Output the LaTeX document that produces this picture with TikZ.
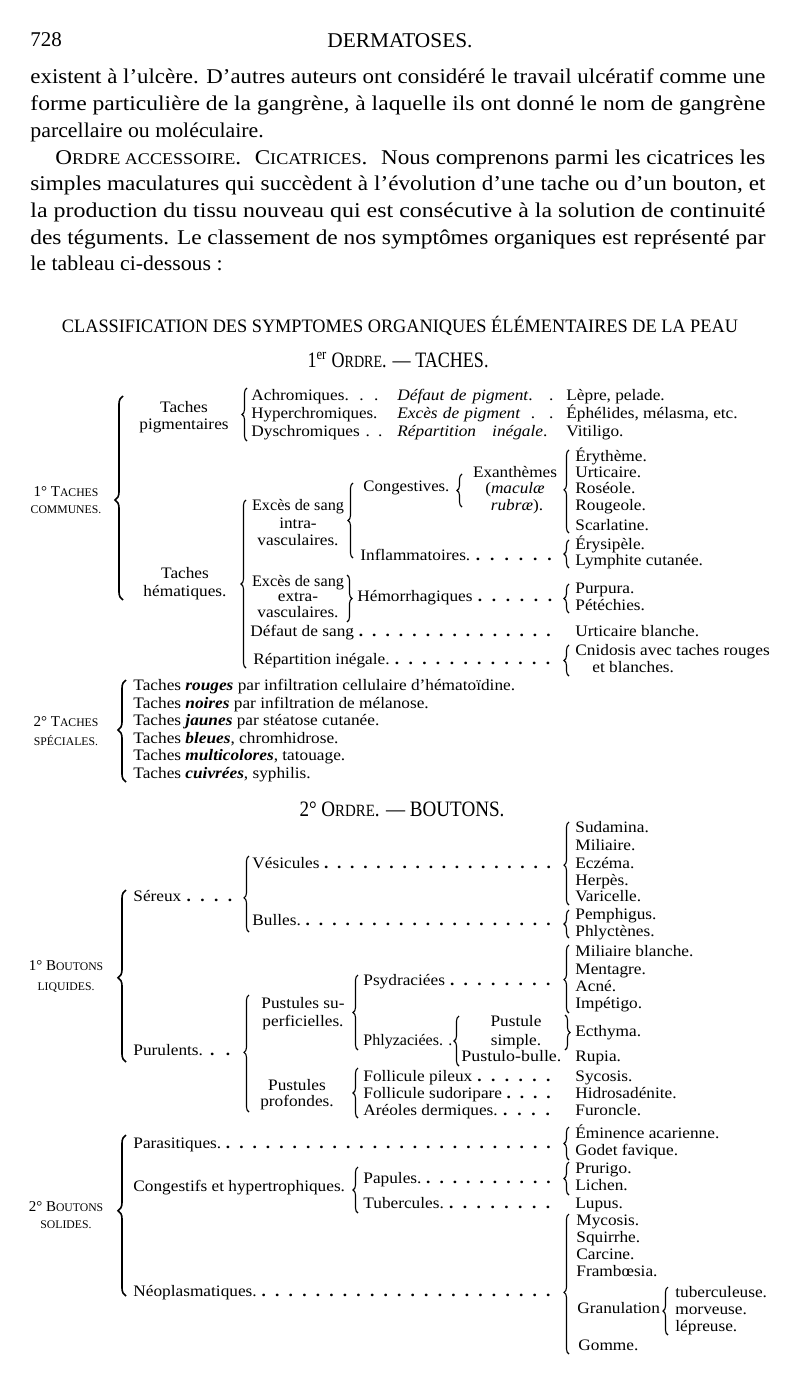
\documentclass[tikz,border=0pt]{standalone}
\usepackage{fontspec}
\setmainfont{Liberation Serif}
\newfontfamily\tabfam{Liberation Serif}[FakeStretch=1.08]
\usetikzlibrary{decorations.pathreplacing}
\newcommand\tf{\tabfam\fontsize{8}{9.6}\selectfont}
\newcommand\lf{\fontsize{7.5}{9}\selectfont}
\newcommand\bdf{\fontsize{10.5}{12.5}\selectfont}
\newcommand\smc[1]{\scalebox{0.78}{#1}}
\newcommand\ld[2]{\makebox[#1][l]{#2\xleaders\hbox to 6.5pt{\hss\textbf{.}\hss}\hfill}}
\newcommand\fit[2]{\resizebox{#1}{\height}{#2}}
\tikzset{
  tx/.style={anchor=base west, inner sep=0pt, font=\tf, yshift=-1.8pt},
  tc/.style={anchor=base, inner sep=0pt, font=\tf, yshift=-1.8pt},
  tl/.style={anchor=base, inner sep=0pt, font=\lf, yshift=-1.8pt},
  bd/.style={anchor=base west, inner sep=0pt, font=\bdf, yshift=-2.5pt},
  hdg/.style={anchor=base, inner sep=0pt, font=\bdf, yshift=-3pt},
  br/.style={decorate, decoration={brace, amplitude=2.5pt, aspect=#1}, line width=0.55pt},
  br/.default=0.5,
  bbr/.style={decorate, decoration={brace, amplitude=4pt, aspect=#1}, line width=0.8pt},
  bbr/.default=0.5
}
\begin{document}
\begin{tikzpicture}[x=0.5pt,y=-0.5pt]
\fill[white] (0,0) rectangle (800,1385);
\useasboundingbox (0,0) rectangle (800,1385);
% header
\node[bd] (pg) at (30,42) {728};
\node[hdg] (hd) at (400,42) {\fit{72.5pt}{DERMATOSES.}};
% paragraph
\node[bd] (l1) at (30,79) {\fit{367.5pt}{existent à l’ulcère. D’autres auteurs ont considéré le travail ulcératif comme une}};
\node[bd] (l2) at (30,106) {\fit{367.5pt}{forme particulière de la gangrène, à laquelle ils ont donné le nom de gangrène}};
\node[bd] (l3) at (30,133) {\scalebox{1.04}[1]{parcellaire ou moléculaire.}};
\node[bd] (l4) at (55,160) {\fit{355pt}{O\smc{RDRE ACCESSOIRE}. \ C\smc{ICATRICES}. \ Nous comprenons parmi les cicatrices les}};
\node[bd] (l5) at (30,186) {\fit{367.5pt}{simples maculatures qui succèdent à l’évolution d’une tache ou d’un bouton, et}};
\node[bd] (l6) at (30,213) {\fit{367.5pt}{la production du tissu nouveau qui est consécutive à la solution de continuité}};
\node[bd] (l7) at (30,240) {\fit{367.5pt}{des téguments. Le classement de nos symptômes organiques est représenté par}};
\node[bd] (l8) at (30,266) {\scalebox{1.04}[1]{le tableau ci-dessous :}};
% titles
\node[hdg, font=\fontsize{9.5}{11}\selectfont] (ti) at (400,326) {\fit{338pt}{CLASSIFICATION DES SYMPTOMES ORGANIQUES ÉLÉMENTAIRES DE LA PEAU}};
\node[hdg, font=\fontsize{11}{13}\selectfont] (o1) at (398,361) {\fit{90.5pt}{1\textsuperscript{er} O\smc{RDRE}. — TACHES.}};

% ===== 1er ordre: taches communes
\node[tl] (tcA) at (66,493) {1° T\smc{ACHES}};
\node[tl] (tcB) at (66,510) {\smc{COMMUNES.}};
\draw[bbr=0.49] (123,600) -- (123,396);

\node[tc] (tpA) at (184,409) {Taches};
\node[tc] (tpB) at (184,426) {pigmentaires};
\draw[br] (247,441) -- (247,388);
\node[tx] (a1) at (251,397) {\makebox[63.5pt][s]{Achromiques. \ . \ .}};
\node[tx] (a2) at (251,415) {\fit{63pt}{Hyperchromiques.}};
\node[tx] (a3) at (251,433) {\makebox[63.5pt][s]{Dyschromiques \ . \ .}};
\node[tx] (b1) at (397,397) {\makebox[78pt][s]{\textit{Défaut de pigment}. \ .}};
\node[tx] (b2) at (397,415) {\makebox[78pt][s]{\textit{Excès de pigment} \ . \ .}};
\node[tx] (b3) at (397,433) {\makebox[75pt][s]{\textit{Répartition inégale}.}};
\node[tx] (c1) at (566,397) {Lèpre, pelade.};
\node[tx] (c2) at (566,415) {Éphélides, mélasma, etc.};
\node[tx] (c3) at (566,433) {Vitiligo.};

\node[tc] (thA) at (185,575) {Taches};
\node[tc] (thB) at (185,593) {hématiques.};
\draw[br] (246,668) -- (246,500);
\node[tc] (esA) at (298,507) {\fit{46pt}{Excès de sang}};
\node[tc] (esB) at (298,525) {intra-};
\node[tc] (esC) at (298,542) {vasculaires.};
\draw[br] (353,558) -- (353,483);
\node[tx] (cong) at (363,488) {\fit{43pt}{Congestives.}};
\draw[br] (462,507) -- (462,474);
\node[tc] (exA) at (515,474) {\fit{42pt}{Exanthèmes}};
\node[tc] (exB) at (515,490) {(\textit{maculæ}};
\node[tc] (exC) at (517,507) {\textit{rubræ}).};
\draw[br=0.52] (569,533) -- (569,450);
\node[tx] (d1) at (575,458) {Érythème.};
\node[tx] (d2) at (575,474) {Urticaire.};
\node[tx] (d3) at (575,490) {Roséole.};
\node[tx] (d4) at (575,507) {Rougeole.};
\node[tx] (d5) at (575,527) {Scarlatine.};
\node[tx] (infl) at (360,557) {\ld{98.5pt}{Inflammatoires.}};
\draw[br] (569,568) -- (569,540);
\node[tx] (e1) at (575,546) {Érysipèle.};
\node[tx] (e2) at (575,562) {Lymphite cutanée.};
\node[tc] (exsA) at (298,583) {\fit{46pt}{Excès de sang}};
\node[tc] (exsB) at (298,598) {extra-};
\node[tc] (exsC) at (298,614) {vasculaires.};
\draw[br] (347,575) -- (347,622);
\node[tx] (hemo) at (357,598) {\ld{100pt}{Hémorrhagiques}};
\draw[br] (569,613) -- (569,584);
\node[tx] (f1) at (575,590) {Purpura.};
\node[tx] (f2) at (575,607) {Pétéchies.};
\node[tx] (defs) at (250,633) {\ld{152.5pt}{Défaut de sang}};
\node[tx] (ub) at (575,633) {Urticaire blanche.};
\node[tx] (repi) at (253,661) {\ld{151pt}{Répartition inégale.}};
\draw[br] (569,676) -- (569,645);
\node[tx] (g1) at (575,652) {Cnidosis avec taches rouges};
\node[tx] (g2) at (592,669) {et blanches.};

% ===== taches speciales
\node[tl] (tsA) at (66,723) {2° T\smc{ACHES}};
\node[tl] (tsB) at (66,742) {\smc{SPÉCIALES.}};
\draw[bbr=0.51] (126,782) -- (126,680);
\node[tx] (s1) at (133,687) {Taches \textbf{\textit{rouges}} par infiltration cellulaire d’hématoïdine.};
\node[tx] (s2) at (133,705) {Taches \textbf{\textit{noires}} par infiltration de mélanose.};
\node[tx] (s3) at (133,722) {Taches \textbf{\textit{jaunes}} par stéatose cutanée.};
\node[tx] (s4) at (133,740) {Taches \textbf{\textit{bleues}}, chromhidrose.};
\node[tx] (s5) at (133,757) {Taches \textbf{\textit{multicolores}}, tatouage.};
\node[tx] (s6) at (133,775) {Taches \textbf{\textit{cuivrées}}, syphilis.};

% ===== 2e ordre: boutons
\node[hdg, font=\fontsize{11}{13}\selectfont] (o2) at (402,810) {\fit{102.5pt}{2° O\smc{RDRE}. — BOUTONS.}};

\node[tl] (blA) at (66,967) {1° B\smc{OUTONS}};
\node[tl] (blB) at (66,987) {\smc{LIQUIDES.}};
\draw[bbr=0.49] (126,1062) -- (126,890);
\node[tx] (ser) at (133,898) {\ld{52pt}{Séreux}};
\draw[br=0.45] (249,932) -- (249,856);
\node[tx] (ves) at (252,865) {\ld{151.5pt}{Vésicules}};
\draw[br=0.48] (569,905) -- (569,822);
\node[tx] (h1) at (575,829) {Sudamina.};
\node[tx] (h2) at (575,847) {Miliaire.};
\node[tx] (h3) at (575,865) {Eczéma.};
\node[tx] (h4) at (575,882) {Herpès.};
\node[tx] (h5) at (575,898) {Varicelle.};
\node[tx] (bul) at (252,922) {\ld{151.5pt}{Bulles.}};
\draw[br] (569,938) -- (569,910);
\node[tx] (i1) at (575,916) {Pemphigus.};
\node[tx] (i2) at (575,933) {Phlyctènes.};
\node[tx] (pur) at (133,1052) {\ld{52pt}{Purulents.}};
\draw[br=0.51] (249,1112) -- (249,995);
\node[tc] (psA) at (303,1005) {Pustules su-};
\node[tc] (psB) at (303,1023) {perficielles.};
\draw[br] (358,1050) -- (358,975);
\node[tx] (psy) at (363,982) {\ld{96pt}{Psydraciées}};
\draw[br=0.49] (569,1013) -- (569,945);
\node[tx] (j1) at (575,953) {Miliaire blanche.};
\node[tx] (j2) at (575,971) {Mentagre.};
\node[tx] (j3) at (575,988) {Acné.};
\node[tx] (j4) at (575,1005) {Impétigo.};
\node[tx] (phl) at (363,1042) {\fit{44.5pt}{Phlyzaciées. .}};
\draw[br] (459,1066) -- (459,1016);
\node[tc] (puA) at (516,1023) {Pustule};
\node[tc] (puB) at (516,1042) {simple.};
\node[tx] (pub) at (461,1058) {\fit{50pt}{Pustulo-bulle.}};
\draw[br] (565,1015) -- (565,1050);
\node[tx] (ecth) at (575,1033) {Ecthyma.};
\node[tx] (rup) at (575,1058) {Rupia.};
\node[tc] (ppA) at (297,1087) {Pustules};
\node[tc] (ppB) at (297,1103) {profondes.};
\draw[br] (358,1118) -- (358,1068);
\node[tx] (k1) at (363,1078) {\ld{96pt}{Follicule pileux}};
\node[tx] (k2) at (363,1095) {\ld{96pt}{Follicule sudoripare}};
\node[tx] (k3) at (363,1112) {\ld{96pt}{Aréoles dermiques.}};
\node[tx] (m1) at (575,1078) {Sycosis.};
\node[tx] (m2) at (575,1095) {Hidrosadénite.};
\node[tx] (m3) at (575,1112) {Furoncle.};

\node[tl] (bsA) at (66,1208) {2° B\smc{OUTONS}};
\node[tl] (bsB) at (66,1225) {\smc{SOLIDES.}};
\draw[bbr=0.53] (126,1296) -- (126,1135);
\node[tx] (par) at (133,1145) {\ld{211pt}{Parasitiques.}};
\draw[br] (569,1160) -- (569,1127);
\node[tx] (n1) at (575,1135) {Éminence acarienne.};
\node[tx] (n2) at (575,1152) {Godet favique.};
\node[tx] (cgh) at (133,1188) {Congestifs et hypertrophiques.};
\draw[br] (358,1213) -- (358,1167);
\node[tx] (pap) at (363,1180) {\ld{96pt}{Papules.}};
\draw[br] (569,1195) -- (569,1162);
\node[tx] (p1) at (575,1170) {Prurigo.};
\node[tx] (p2) at (575,1187) {Lichen.};
\node[tx] (tub) at (363,1205) {\ld{96pt}{Tubercules.}};
\node[tx] (lup) at (575,1205) {Lupus.};
\node[tx] (neo) at (133,1293) {\ld{211pt}{Néoplasmatiques.}};
\draw[br=0.44] (569,1354) -- (569,1214);
\node[tx] (q1) at (576,1222) {Mycosis.};
\node[tx] (q2) at (576,1239) {Squirrhe.};
\node[tx] (q3) at (576,1256) {Carcine.};
\node[tx] (q4) at (576,1273) {Frambœsia.};
\node[tx] (gran) at (577,1310) {Granulation};
\node[tx] (gom) at (578,1347) {Gomme.};
\draw[br] (668,1335) -- (668,1287);
\node[tx] (r1) at (675,1294) {tuberculeuse.};
\node[tx] (r2) at (675,1311) {morveuse.};
\node[tx] (r3) at (675,1328) {lépreuse.};
\end{tikzpicture}
\end{document}
